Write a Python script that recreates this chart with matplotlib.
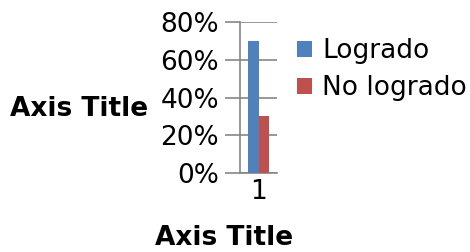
import matplotlib
matplotlib.use("Agg")
import matplotlib.pyplot as plt
from matplotlib.ticker import PercentFormatter
import numpy as np

categories = ["1"]
series_names = ["Logrado", "No logrado"]
logrado = [0.70]
no_logrado = [0.30]
yticks = [0, 0.2, 0.4, 0.6, 0.8]

W, H = 470, 252
fig = plt.figure(figsize=(W / 100, H / 100), dpi=100)
ax = fig.add_axes([240 / W, 1 - 173 / H, 37 / W, 151 / H])

x = np.arange(len(categories))
bw = 0.29
grid_c = "#868686"
ax.bar(x - bw / 2, logrado, bw, color="#4F81BD", label=series_names[0], zorder=3)
ax.bar(x + bw / 2, no_logrado, bw, color="#C0504D", label=series_names[1], zorder=3)

ax.set_xlim(-0.5, 0.5)
ax.set_ylim(0, 0.8)
ax.set_yticks(yticks)
ax.yaxis.set_major_formatter(PercentFormatter(1.0, decimals=0))
ax.set_xticks(x)
ax.set_xticklabels(categories)
ax.grid(axis="y", color=grid_c, linewidth=1.2, zorder=0)
for s in ["top", "right"]:
    ax.spines[s].set_visible(False)
for s in ["left", "bottom"]:
    ax.spines[s].set_color(grid_c)
    ax.spines[s].set_linewidth(1.2)
ax.tick_params(axis="y", length=11, width=1.2, color=grid_c, labelsize=19, pad=4)
ax.tick_params(axis="x", length=0, labelsize=19, pad=4)

ax.legend(loc="upper left", bbox_to_anchor=(297 / W, 1 - 38 / H), bbox_transform=fig.transFigure,
          frameon=False, fontsize=19, handlelength=0.57, handleheight=0.57,
          handletextpad=0.38, labelspacing=0.42, borderaxespad=0, borderpad=0)

fig.text(79 / W, 1 - 109 / H, "Axis Title", ha="center", va="center", fontsize=19, fontweight="bold")
fig.text(224 / W, 1 - 238 / H, "Axis Title", ha="center", va="center", fontsize=19, fontweight="bold")

fig.savefig("out.png", dpi=100)
